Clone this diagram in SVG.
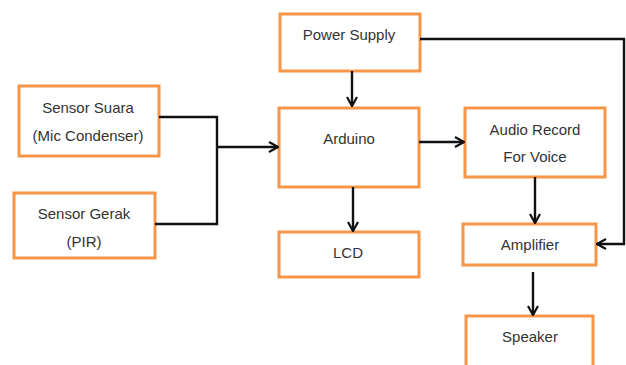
<svg xmlns="http://www.w3.org/2000/svg" width="626" height="365" viewBox="0 0 626 365">
<defs>
<marker id="arr" viewBox="0 0 12 12" refX="11" refY="6" markerWidth="12" markerHeight="12" markerUnits="userSpaceOnUse" orient="auto">
<path d="M2,1 L11,6 L2,11" fill="none" stroke="#111" stroke-width="2.2"/>
</marker>
<style>
.box{fill:#fff;stroke:#F79646;stroke-width:3}
.t{font-family:"Liberation Sans",Arial,sans-serif;font-size:15px;fill:#333;text-anchor:middle;dominant-baseline:central}
.c{fill:none;stroke:#111;stroke-width:2.4}
</style>
</defs>
<rect width="626" height="365" fill="#fff"/>
<g id="power"><rect class="box" x="280" y="14" width="140" height="57"/><text class="t" x="349" y="34">Power Supply</text></g>
<g id="suara"><rect class="box" x="19" y="86" width="140" height="70"/><text class="t" x="88" y="107">Sensor Suara</text><text class="t" x="88" y="135">(Mic Condenser)</text></g>
<g id="gerak"><rect class="box" x="14" y="193" width="141" height="65"/><text class="t" x="84" y="213">Sensor Gerak</text><text class="t" x="84" y="241">(PIR)</text></g>
<g id="arduino"><rect class="box" x="279" y="108" width="140" height="79"/><text class="t" x="349" y="138">Arduino</text></g>
<g id="lcd"><rect class="box" x="279" y="232" width="140" height="45"/><text class="t" x="348" y="252">LCD</text></g>
<g id="audio"><rect class="box" x="465" y="108" width="140" height="69"/><text class="t" x="535" y="129">Audio Record</text><text class="t" x="535" y="156">For Voice</text></g>
<g id="amp"><rect class="box" x="463" y="224" width="133" height="41"/><text class="t" x="530" y="244">Amplifier</text></g>
<g id="speaker"><rect class="box" x="466" y="316" width="127" height="60"/><text class="t" x="530" y="336">Speaker</text></g>
<g id="connectors">
<path class="c" d="M352,71 V106" marker-end="url(#arr)"/>
<path class="c" d="M159,117 H217 V224 H155"/>
<path class="c" d="M217,147 H278" marker-end="url(#arr)"/>
<path class="c" d="M419,142 H464" marker-end="url(#arr)"/>
<path class="c" d="M353,187 V231" marker-end="url(#arr)"/>
<path class="c" d="M535,177 V223" marker-end="url(#arr)"/>
<path class="c" d="M420,39 H624 V244 H597" marker-end="url(#arr)"/>
<path class="c" d="M533,272 V315" marker-end="url(#arr)"/>
</g>
</svg>
